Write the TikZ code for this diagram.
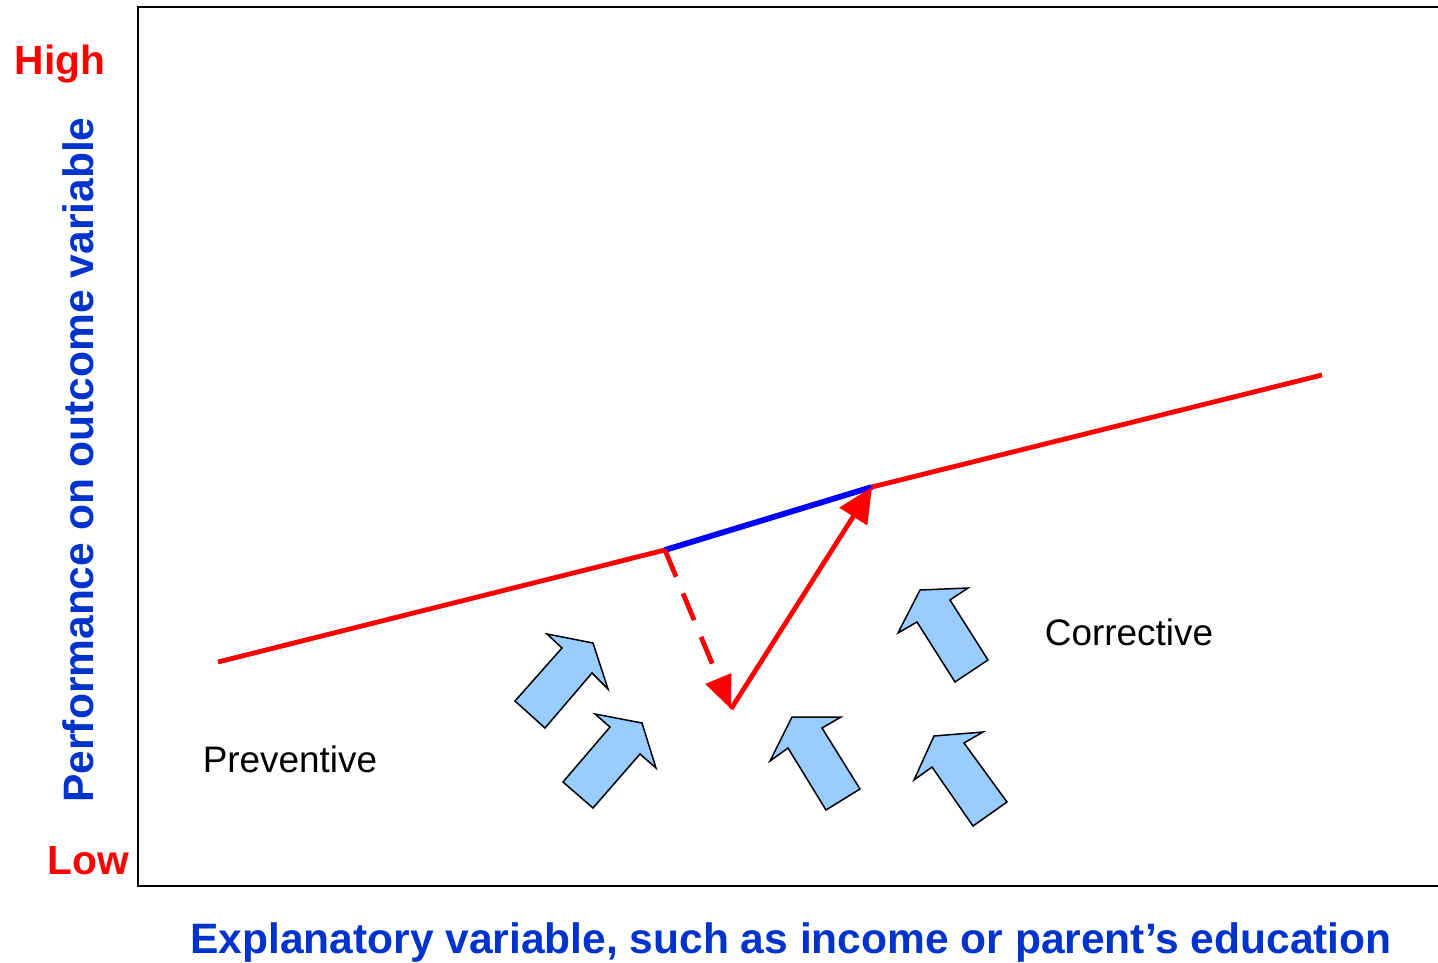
\documentclass[tikz,border=0pt]{standalone}
\usepackage{fontspec}
\setmainfont{Liberation Sans}
\usetikzlibrary{arrows.meta}
\definecolor{axisblue}{RGB}{0,51,204}
\definecolor{arrowfill}{RGB}{153,204,255}

\begin{document}
\begin{tikzpicture}[x=0.1mm, y=-0.1mm,
        levellabel/.style={text=red, font=\fontsize{11.6}{13}\selectfont\bfseries, inner sep=0pt, anchor=base},
        axislabel/.style={text=axisblue, font=\fontsize{12.1}{14}\selectfont\bfseries, inner sep=0pt, anchor=base},
        zonelabel/.style={font=\fontsize{10.5}{12}\selectfont, inner sep=0pt},
        trend/.style={red, line width=0.48mm},
        gainline/.style={blue, line width=0.58mm},
        blockarrow/.style={fill=arrowfill, draw=black, line width=0.15mm, line join=miter}]
        \useasboundingbox (0,0) rectangle (1438,963);
        \draw[line width=0.2mm] (138,7) rectangle (1445,886);
        % labels
        \node[levellabel] (high) at (60,74) {High};
        \node[levellabel] (low) at (88,874) {Low};
        \node[axislabel, rotate=90] (ylab) at (94,460) {Performance on outcome variable};
        \node[axislabel] (xlab) at (791,953) {Explanatory variable, such as income or parent’s education};
        \node[zonelabel] (prev) at (290,759) {Preventive};
        \node[zonelabel] (corr) at (1129,632) {Corrective};
        % the line
        \coordinate (lineL) at (218,662);
        \coordinate (kinkA) at (665,550);
        \coordinate (kinkB) at (872,487);
        \coordinate (lineR) at (1322,375);
        \coordinate (dip) at (731,709);
        \draw[trend] (lineL) -- (kinkA);
        \draw[trend] (kinkB) -- (lineR);
        \draw[gainline] (kinkA) -- (kinkB);
        \draw[trend, dash pattern=on 2.9mm off 1.8mm, -{Triangle[length=3.3mm, width=2.7mm]}] (kinkA) -- (dip);
        \draw[trend, -{Triangle[length=3.5mm, width=3.2mm]}] (dip) -- (kinkB);
        % block arrows
        \filldraw[blockarrow] (515,701) -- (562,648) -- (547,634) -- (593,643) -- (608,689) -- (592,673) -- (545,728) -- cycle;
        \filldraw[blockarrow] (563,782) -- (610,727) -- (595,714) -- (642,723) -- (656,768) -- (640,754) -- (593,808) -- cycle;
        \filldraw[blockarrow] (920,590) -- (968,588) -- (950,600) -- (988,660) -- (955,682) -- (917,622) -- (898,633) -- cycle;
        \filldraw[blockarrow] (792,717) -- (841,717) -- (822,728) -- (860,789) -- (826,810) -- (788,748) -- (770,761) -- cycle;
        \filldraw[blockarrow] (934,736) -- (983,732) -- (964,743) -- (1007,802) -- (973,826) -- (932,767) -- (914,780) -- cycle;
\end{tikzpicture}
\end{document}
